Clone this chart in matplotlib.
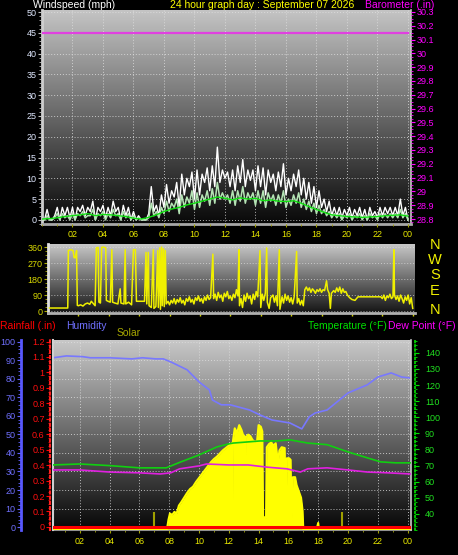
import numpy as np
import matplotlib
matplotlib.use("Agg")
import matplotlib.pyplot as plt
from matplotlib.colors import LinearSegmentedColormap
from matplotlib.ticker import MultipleLocator

plt.rcParams['font.family'] = ['Liberation Sans', 'DejaVu Sans']

# ---- wind (10 minute samples, 00:00 .. 24:00) ----
gust = [0, 0, 2.5, 0, 0, 1, 3,
        0, 3, 1, 3, 0.5, 3,
        0, 3, 2, 3.5, 1, 3,
        2, 4.5, 0, 3, 2, 3.5,
        0.5, 3, 1, 4.5, 2, 3,
        0, 3.5, 1, 3, 0, 2,
        0, 1, 0, 0, 0, 1.5,
        8, 2, 3.5, 1, 6, 3,
        8.5, 4, 7, 5.5, 9, 3,
        11, 6, 10, 8, 11.5, 5,
        12, 6, 11, 9, 12.5, 7,
        13, 8, 17.5, 9, 12, 10,
        11.5, 8, 12, 7, 13, 9,
        14.5, 8, 12, 9.5, 12, 7,
        13, 8, 12.5, 6, 12, 9,
        11, 7, 11.5, 8, 13.5, 6,
        10, 7, 11, 8, 12, 6,
        10, 5, 9, 4, 8, 3,
        7, 3, 5, 2, 4.5, 1,
        3, 1, 3, 0.5, 2.5, 1,
        3, 0.5, 2.5, 1, 3, 0.5,
        2.5, 0, 3, 1, 2, 0.5,
        3, 1, 3, 1.5, 3, 1,
        3, 1, 5, 1, 3, 0]
speed = [0, 0, 1, 0, 0, 0.5, 1.5,
         0, 1.5, 0.5, 1, 0, 1.5,
         0, 1.5, 1, 2, 0.5, 1,
         1, 2.5, 0, 1.5, 1, 2,
         0, 1.5, 0.5, 2.5, 1, 1.5,
         0, 2, 0.5, 1.5, 0, 1,
         0, 0.5, 0, 0, 0, 0.5,
         4, 1, 2, 0.5, 3, 1.5,
         4.5, 2, 4, 3, 5, 1.5,
         6, 3, 5.5, 4, 7, 2.5,
         6.5, 3, 6, 4.5, 7, 3.5,
         7.5, 4, 9, 5, 6.5, 5,
         6, 4, 7, 3.5, 7, 4.5,
         8, 4, 6.5, 5, 6.5, 3.5,
         7, 4, 7, 3, 6.5, 4.5,
         6, 3.5, 6, 4, 7, 3,
         5, 3.5, 6, 4, 6.5, 3,
         5, 2.5, 4.5, 2, 4, 1.5,
         3.5, 1.5, 2.5, 1, 2, 0.5,
         1.5, 0.5, 1.5, 0, 1, 0.5,
         1.5, 0, 1, 0.5, 1.5, 0,
         1, 0, 1.5, 0.5, 1, 0,
         1.5, 0.5, 1.5, 0.5, 1.5, 0.5,
         1.5, 0.5, 2.5, 0.5, 1.5, 0]
wind_hours = np.arange(len(gust)) / 6.0

avg_wind = [0.2, 0.3, 0.5, 0.8, 1.0, 1.2, 1.5, 1.0, 1.3, 1.2, 1.0, 0.8,
            0.4, 0.2, 0.6, 1.2, 2.0, 2.6, 3.0, 3.6, 4.0, 4.5, 5.0, 5.5,
            5.2, 4.8, 5.3, 5.0, 5.2, 4.6, 4.8, 4.5, 4.4, 4.6, 4.0, 3.2,
            2.5, 1.8, 1.2, 1.0, 0.8, 0.7, 0.6, 0.7, 0.8, 1.0, 1.1, 1.2, 0.9]
avg_hours = np.arange(len(avg_wind)) / 2.0

baro_hours = [0, 24]
baro = [30.15, 30.15]

# ---- wind direction ----
dir_hours = [0.1, 1.3, 1.34, 1.5, 1.65, 1.72, 1.8, 1.88, 1.93,
             2.0, 2.15, 2.3, 2.45, 2.6, 2.75, 2.85, 3.0, 3.1,
             3.18, 3.3, 3.35, 3.45, 3.53, 3.65, 3.8, 3.84, 3.95, 4.1,
             4.2, 4.25, 4.4, 4.6, 4.75, 4.8, 5.0, 5.08, 5.12, 5.3, 5.5,
             5.62, 5.75, 5.82, 6.35, 6.45, 6.5, 6.6, 6.65, 6.8, 6.93, 6.97,
             7.1, 7.22, 7.26, 7.35, 7.4, 7.48, 7.52, 7.6, 7.65, 7.72, 7.78,
             7.9, 8.0, 8.1, 8.2, 8.3, 8.4, 8.5, 8.6, 8.7, 8.8, 8.9, 9.0,
             9.1, 9.2, 9.3, 9.4, 9.5, 9.6, 9.7, 9.8, 9.9, 10.0, 10.1, 10.2,
             10.3, 10.4, 10.5, 10.6, 10.7, 10.85, 10.9,
             11.0, 11.1, 11.2, 11.3, 11.4, 11.5, 11.6, 11.7, 11.8, 11.9,
             12.0, 12.1, 12.2, 12.3, 12.4, 12.5, 12.57, 12.6, 12.7, 12.8,
             12.9, 13.0, 13.1, 13.2, 13.3, 13.4, 13.5, 13.6, 13.7, 13.8,
             13.95, 14.0, 14.1, 14.2, 14.3, 14.39, 14.43, 14.55, 14.65, 14.8,
             14.9, 15.0, 15.1, 15.22, 15.26, 15.4, 15.5, 15.6, 15.7, 15.8,
             15.9, 16.0, 16.1, 16.2, 16.36, 16.4, 16.5, 16.6, 16.7, 16.8, 16.9,
             17.0, 17.1, 17.2, 17.3, 17.4, 17.5, 17.6, 17.7, 17.8, 17.9,
             18.0, 18.1, 18.2, 18.33, 18.4, 18.5, 18.58, 18.65, 18.8, 18.9,
             19.0, 19.1, 19.2, 19.3, 19.4, 19.5, 19.6, 19.7, 19.85, 20.0,
             20.2, 20.4, 21.9, 22.0, 22.1, 22.2, 22.3, 22.4, 22.5, 22.6,
             22.7, 22.76, 22.8, 22.9, 23.0, 23.1, 23.2, 23.3, 23.4, 23.5,
             23.6, 23.7, 23.8, 23.9, 24.0]
dir_vals = [17, 17, 341, 345, 340, 300, 300, 340, 32,
            30, 35, 28, 40, 45, 38, 55, 40, 30,
            355, 358, 50, 45, 358, 360, 355, 60, 55, 50,
            345, 50, 45, 40, 125, 45, 40, 345, 40, 50, 35,
            345, 345, 55, 55, 330, 40, 330, 30, 20, 345, 15,
            25, 340, 20, 355, 10, 360, 30, 350, 25, 340, 40,
            55, 35, 60, 45, 70, 40, 65, 50, 75, 45, 60, 35,
            70, 55, 80, 50, 65, 40, 75, 60, 85, 55, 70, 45,
            80, 60, 90, 65, 75, 320, 70,
            95, 60, 105, 75, 90, 55, 100, 80, 110, 70,
            85, 60, 95, 75, 120, 85, 345, 30, 70, 20,
            90, 55, 100, 70, 85, 40, 95, 65, 110, 80,
            340, 20, 95, 60, 100, 355, 50, 15, 75, 90,
            50, 85, 30, 345, 10, 80, 45, 95, 60, 85,
            50, 75, 40, 80, 335, 45, 70, 35, 60, 30, 120,
            135, 115, 130, 105, 125, 115, 100, 120, 110, 125,
            105, 120, 115, 170, 120, 100, 15, 100, 115, 105,
            130, 110, 135, 100, 125, 105, 110, 90, 75, 65,
            60, 80, 80, 70, 90, 60, 85, 75, 95, 70,
            80, 345, 90, 65, 85, 55, 90, 70, 45, 80,
            60, 90, 40, 75, 15]

# ---- bottom panel ----
hum_hours = [0.2, 1.1, 2.2, 2.7, 4.0, 5.5, 6.2, 7.1, 7.6, 8.1,
             9.2, 10.0, 10.7, 10.9, 11.5, 12.1, 13.4, 14.1, 14.9, 16.1,
             16.9, 17.4, 17.8, 18.6, 20.0, 21.3, 22.0, 22.9, 23.6, 24.2]
humidity = [91.4, 92.4, 92.0, 91.4, 91.4, 90.8, 91.4, 90.8, 90.8, 89.2,
            84.9, 78.4, 74.0, 68.6, 66.0, 66.0, 63.2, 60.5, 57.8, 56.2,
            53.0, 59.5, 61.6, 63.2, 72.4, 76.8, 81.0, 83.2, 81.0, 80.5]

temp_hours = [0.2, 2.0, 4.0, 6.0, 7.8, 8.7, 10.0, 11.2, 12.0, 12.3,
              14.1, 15.2, 16.1, 17.3, 18.6, 20.0, 21.3, 22.2, 23.2, 24.2]
temperature = [70.4, 71.0, 70.0, 68.6, 68.6, 72.0, 76.6, 81.6, 83.5, 84.0,
               85.3, 85.3, 86.0, 84.0, 83.0, 78.5, 74.8, 72.3, 71.7, 71.7]

dew_hours = [0.2, 2.0, 4.0, 6.0, 7.4, 8.1, 8.7, 10.0, 10.5, 12.0,
             13.3, 14.6, 15.9, 16.8, 17.3, 18.6, 20.0, 21.3, 22.7, 24.2]
dewpoint = [67.3, 67.3, 66.0, 65.5, 64.8, 65.5, 68.0, 69.8, 71.0, 70.4,
            70.4, 69.0, 68.0, 66.0, 68.0, 68.6, 67.3, 66.0, 65.5, 64.8]

rain_hours = [0.2, 24.2]
rain = [0, 0]

solar_hours = [0.2, 7.85, 7.95, 8.05, 8.2, 8.35, 8.5, 8.65, 8.8, 9.0,
               9.2, 9.4, 9.6, 9.8, 10.0, 10.2, 10.4, 10.6, 10.8, 11.0,
               11.2, 11.4, 11.6, 11.8, 12.0, 12.2, 12.24, 12.28, 12.4, 12.55,
               12.7, 12.85, 12.95, 13.05, 13.09, 13.13, 13.3, 13.45, 13.6, 13.75,
               13.9, 14.0, 14.15, 14.25, 14.3, 14.5, 14.55, 14.7, 14.85, 15.0,
               15.15, 15.3, 15.4, 15.55, 15.75, 15.84, 15.9, 16.05, 16.15, 16.2,
               16.3, 16.45, 16.55, 16.7, 16.85, 16.95, 17.0, 17.9, 18.0, 18.05, 24.2]
solar = [0, 0, 60, 100, 90, 110, 100, 150, 170, 200,
         230, 255, 270, 300, 325, 350, 375, 400, 425, 445,
         460, 480, 500, 515, 530, 545, 80, 560, 640, 610,
         660, 630, 600, 590, 70, 580, 600, 590, 565, 555,
         560, 660, 650, 620, 80, 70, 520, 540, 550, 530,
         545, 420, 500, 520, 515, 60, 450, 450, 440, 50,
         330, 330, 280, 240, 200, 120, 0, 0, 40, 0, 0]

uv_hours = [6.98, 19.6]
uv = [110, 110]

hour_ticks = list(range(2, 25, 2))
hour_labels = ['%02d' % (h % 24) for h in hour_ticks]

W, H = 458, 555
fig = plt.figure(figsize=(W / 100, H / 100), dpi=100, facecolor='black')


def box(l, t, r, b):
    return [l / W, 1 - b / H, (r - l) / W, (b - t) / H]


grad = np.linspace(0, 1, 256).reshape(-1, 1)


def backdrop(ax, top, bottom):
    cmap = LinearSegmentedColormap.from_list('bg', [bottom, top])
    ax.imshow(grad, extent=[0, 1, 0, 1], transform=ax.transAxes, cmap=cmap,
              aspect='auto', origin='lower', zorder=0)


def trim(v):
    s = ('%.1f' % v).rstrip('0').rstrip('.')
    return s


YEL = '#e8e800'
TICK_FS = 6.5
TITLE_FS = 7.5

# ================= panel 1: wind / barometer =================
ax1 = fig.add_axes(box(42, 10, 411, 224))
ax1.set_facecolor('black')
backdrop(ax1, '#c4c4c4', '#080808')
ax1.plot(wind_hours, gust, color='white', lw=1.0, zorder=3)
ax1.plot(wind_hours, speed, color='#b4e4b4', lw=1.1, zorder=4)
ax1.plot(avg_hours, avg_wind, color='#10e010', lw=1.0, zorder=5)
ax1.set_xlim(0, 24.2)
ax1.set_ylim(-1, 50.5)
ax1.set_yticks(range(0, 51, 5))
ax1.yaxis.set_minor_locator(MultipleLocator(1))
ax1.set_xticks(hour_ticks)
ax1.set_xticklabels(hour_labels)
ax1.xaxis.set_minor_locator(MultipleLocator(1))
ax1.grid(True, color='#e0e0e0', ls=(0, (1, 2)), lw=0.7, alpha=0.8)
ax1.set_axisbelow(False)
ax1.tick_params(axis='y', colors='#c0c0c0', labelcolor='#e0e8ff', labelsize=TICK_FS,
                length=3, width=0.8, pad=1)
ax1.tick_params(axis='y', which='minor', colors='#c0c0c0', length=2, width=0.6)
ax1.tick_params(axis='x', colors='#a0a000', labelcolor=YEL, labelsize=TICK_FS,
                length=2, width=0.8, pad=2)
ax1.tick_params(axis='x', which='minor', colors='#a0a000', length=1.5)
ax1.spines['top'].set_visible(False)
ax1.spines['left'].set_color('#d0d0d0')
ax1.spines['left'].set_linewidth(2)
ax1.spines['bottom'].set_color('#a8a8a8')
ax1.spines['bottom'].set_linewidth(2)
ax1.spines['right'].set_color('#c8c8c8')
ax1.spines['right'].set_linewidth(1.2)

axb = ax1.twinx()
axb.plot(baro_hours, baro, color='#e040e0', lw=1.6)
axb.set_ylim(28.764, 30.314)
bt = [round(28.8 + 0.1 * i, 1) for i in range(16)]
axb.set_yticks(bt)
axb.set_yticklabels([trim(v) for v in bt])
axb.yaxis.set_minor_locator(MultipleLocator(0.025))
axb.tick_params(axis='y', colors='#ff00ff', labelcolor='#ff00ff', labelsize=TICK_FS,
                length=3, width=0.8, pad=1)
axb.tick_params(axis='y', which='minor', colors='#ff00ff', length=1.5, width=0.6)
for s in ['top', 'left', 'bottom', 'right']:
    axb.spines[s].set_visible(False)

fig.text(33 / W, 1 - 4.5 / H, 'Windspeed (mph)', color='white', fontsize=TITLE_FS,
         va='center')
fig.text(170 / W, 1 - 4.5 / H, '24 hour graph day : September 07 2026', color='#ffff00',
         fontsize=TITLE_FS, va='center')
fig.text(365 / W, 1 - 4.5 / H, 'Barometer (.in)', color='#ff00ff', fontsize=TITLE_FS,
         va='center')

# ================= panel 2: wind direction =================
ax2 = fig.add_axes(box(48, 244, 415, 313))
ax2.set_facecolor('black')
backdrop(ax2, '#c8c8c8', '#141414')
ax2.plot(dir_hours, dir_vals, color='#f0f000', lw=1.1, zorder=3)
ax2.set_xlim(0, 24.15)
ax2.set_ylim(-11, 377)
ax2.set_yticks([0, 90, 180, 270, 360])
ax2.yaxis.set_minor_locator(MultipleLocator(22.5))
ax2.set_xticks(hour_ticks)
ax2.set_xticklabels([])
ax2.yaxis.grid(True, color='#e0e0e0', ls=(0, (1, 2)), lw=0.7, alpha=0.7)
ax2.tick_params(axis='y', colors='#b0b000', labelcolor='#d8d800', labelsize=TICK_FS,
                length=3, width=0.8, pad=1)
ax2.tick_params(axis='y', which='minor', colors='#b0b000', length=2, width=0.6)
ax2.tick_params(axis='x', colors='#d0d000', length=2, width=1)
ax2.spines['top'].set_visible(False)
ax2.spines['right'].set_visible(False)
ax2.spines['left'].set_color('#e0e0e0')
ax2.spines['left'].set_linewidth(2)
ax2.spines['bottom'].set_color('#b0b0b0')
ax2.spines['bottom'].set_linewidth(2)

for letter, ypix in zip(['N', 'W', 'S', 'E', 'N'], [245, 260, 275, 291, 310]):
    fig.text(435 / W, 1 - ypix / H, letter, color='#f0f000', fontsize=10.5,
             ha='center', va='center')

# ================= panel 3: humidity / rain / temperature / solar =================
ax3 = fig.add_axes(box(53, 340, 411, 530))
ax3.set_facecolor('black')
backdrop(ax3, '#c8c8c8', '#060606')
ax3.plot(hum_hours, humidity, color='#7878ff', lw=1.2, zorder=3)
ax3.set_xlim(0.2, 24.23)
ax3.set_ylim(-1.6, 101)
ax3.set_yticks(range(0, 101, 10))
ax3.yaxis.set_minor_locator(MultipleLocator(2))
ax3.set_xticks(hour_ticks)
ax3.set_xticklabels(hour_labels)
ax3.xaxis.set_minor_locator(MultipleLocator(1))
ax3.grid(True, color='#e0e0e0', ls=(0, (1, 2)), lw=0.7, alpha=0.8)
ax3.tick_params(axis='y', colors='#6060ff', labelcolor='#7070ff', labelsize=TICK_FS,
                length=3, width=0.8, pad=1)
ax3.tick_params(axis='y', which='minor', colors='#6060ff', length=2, width=0.6)
ax3.tick_params(axis='x', colors='#a0a000', labelcolor=YEL, labelsize=TICK_FS,
                length=2, width=0.8, pad=3)
ax3.tick_params(axis='x', which='minor', colors='#a0a000', length=1.5)
ax3.spines['left'].set_position(('outward', 23))
ax3.spines['left'].set_color('#5858ff')
ax3.spines['left'].set_linewidth(2)
ax3.spines['top'].set_visible(False)
ax3.spines['right'].set_visible(False)
ax3.spines['bottom'].set_color('#909090')
ax3.spines['bottom'].set_linewidth(1.5)

axs = ax3.twinx()
axs.fill_between(solar_hours, 0, solar, color='#ffff00', lw=0, zorder=2)
axs.plot(solar_hours, solar, color='#ffff00', lw=1.5, zorder=3)
axs.vlines(uv_hours, 0, uv, color='#a0a000', lw=1.5, zorder=3)
axs.set_ylim(-5, 1200)
axs.set_yticks([])
for s in ['top', 'bottom']:
    axs.spines[s].set_visible(False)
axs.spines['left'].set_color('#d0d0d0')
axs.spines['left'].set_linewidth(1.5)
axs.spines['right'].set_color('#c8c8c8')
axs.spines['right'].set_linewidth(1.2)

axr = ax3.twinx()
axr.plot(rain_hours, rain, color='#ff0000', lw=2.2, zorder=4)
axr.set_ylim(-0.02, 1.21)
axr.yaxis.tick_left()
rt = [round(0.1 * i, 1) for i in range(13)]
axr.set_yticks(rt)
axr.set_yticklabels([trim(v) for v in rt])
axr.yaxis.set_minor_locator(MultipleLocator(0.025))
axr.tick_params(axis='y', colors='#ff0000', labelcolor='#ff1010', labelsize=TICK_FS,
                length=3, width=0.8, pad=1)
axr.tick_params(axis='y', which='minor', colors='#ff0000', length=1.5, width=0.6)
for s in ['top', 'bottom', 'right']:
    axr.spines[s].set_visible(False)
axr.spines['left'].set_position(('outward', 2))
axr.spines['left'].set_color('#ff2020')
axr.spines['left'].set_linestyle((0, (1, 1.5)))
axr.spines['left'].set_linewidth(1.5)

axt = ax3.twinx()
axt.plot(temp_hours, temperature, color='#10d010', lw=1.2, zorder=4)
axt.plot(dew_hours, dewpoint, color='#e020e0', lw=1.2, zorder=4)
axt.set_ylim(30, 148)
axt.set_yticks(range(40, 141, 10))
axt.yaxis.set_minor_locator(MultipleLocator(2.5))
axt.tick_params(axis='y', colors='#00e000', labelcolor='#20e020', labelsize=TICK_FS,
                length=3, width=0.8, pad=4)
axt.tick_params(axis='y', which='minor', colors='#00e000', length=1.5, width=0.6)
for s in ['top', 'bottom', 'left']:
    axt.spines[s].set_visible(False)
axt.spines['right'].set_position(('outward', 3))
axt.spines['right'].set_color('#00e000')
axt.spines['right'].set_linestyle((0, (1, 1.5)))
axt.spines['right'].set_linewidth(1.2)

fig.text(0 / W, 1 - 326 / H, 'Rainfall (.in)', color='#ff0000', fontsize=TITLE_FS,
         va='center')
fig.text(66 / W, 1 - 326 / H, 'Humidity', color='#7070ff', fontsize=TITLE_FS, va='center')
fig.text(117 / W, 1 - 333 / H, 'Solar', color='#a8a800', fontsize=TITLE_FS, va='center')
fig.text(308 / W, 1 - 326 / H, 'Temperature (\u00b0F)', color='#00e000', fontsize=TITLE_FS,
         va='center')
fig.text(388 / W, 1 - 326 / H, 'Dew Point (\u00b0F)', color='#ff00ff', fontsize=TITLE_FS,
         va='center')

fig.savefig('out.png', dpi=100, facecolor='black')
